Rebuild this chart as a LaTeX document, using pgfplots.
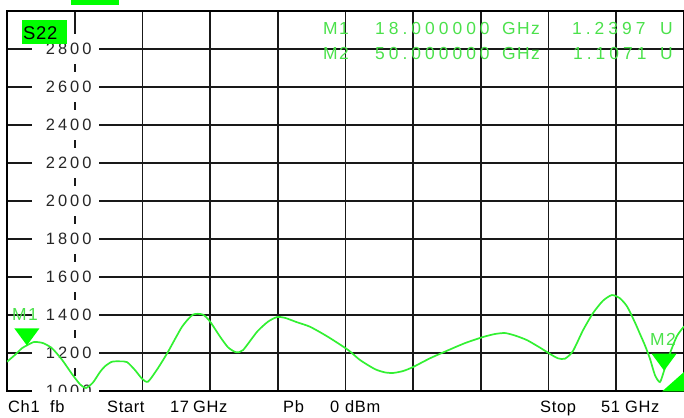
\documentclass[border=0pt]{standalone}
\usepackage{fontspec}
\setmainfont{Liberation Sans}
\newfontfamily\widefont[LetterSpace=18]{Liberation Sans}
\newfontfamily\numfont[LetterSpace=23]{Liberation Sans}
\newfontfamily\midfont[LetterSpace=4]{Liberation Sans}
\newfontfamily\mkfont[LetterSpace=8]{Liberation Sans}
\usepackage{pgfplots}
\pgfplotsset{compat=1.18}
\definecolor{trace}{RGB}{50,240,50}
\definecolor{mk}{RGB}{0,255,0}
\definecolor{mtext}{RGB}{75,225,75}
% marker triangle, tip on the data point
\pgfdeclareplotmark{tridown}{%
  \pgfpathmoveto{\pgfpoint{0bp}{0bp}}%
  \pgfpathlineto{\pgfpoint{-12.5bp}{17bp}}%
  \pgfpathlineto{\pgfpoint{12.5bp}{17bp}}%
  \pgfpathclose\pgfusepathqfill}

\begin{document}
\begin{tikzpicture}
\begin{axis}[
    scale only axis, width=677bp, height=380bp,
    xmin=17, xmax=51, ymin=1000, ymax=3000,
    xtick={20.4,23.8,27.2,30.6,34,37.4,40.8,44.2,47.6},
    ytick={1200,1400,1600,1800,2000,2200,2400,2600,2800},
    xticklabels={}, yticklabels={},
    tick style={draw=none},
    grid=major,
    major grid style={black!90, line width=1.7bp},
    axis line style={black, line width=1.7bp},
]
% gaps in the grid round the scale numbers
\pgfplotsinvokeforeach{1000,1200,...,2800}{
  \fill[white] (axis cs:18.26,#1-79) rectangle (axis cs:21.62,#1+79);
}
\pgfplotsinvokeforeach{1000,1200,...,2800}{
  \node[font=\widefont\fontsize{16.5}{17}\selectfont, text=black!85, inner sep=0pt, xshift=-6bp] at (axis cs:20.4,#1) {#1};
}

\addplot[trace, line width=1.7bp, smooth, tension=0.4] coordinates {
(17.00,1154)(17.40,1190)(17.75,1225)(18.00,1240)(18.36,1258)(18.81,1252)
(19.26,1225)(19.76,1165)(20.26,1090)(20.67,1035)(20.97,1016)(21.32,1045)
(21.67,1100)(21.92,1130)(22.27,1154)(22.68,1156)(23.03,1152)(23.43,1110)
(23.78,1065)(24.08,1049)(24.58,1120)(25.09,1207)(25.79,1338)(26.34,1402)
(26.84,1402)(27.20,1365)(27.70,1286)(28.10,1230)(28.50,1204)(28.85,1215)
(29.56,1312)(30.11,1365)(30.56,1389)(30.96,1385)(31.56,1362)(32.22,1338)
(33.12,1285)(34.13,1216)(34.73,1163)(35.48,1115)(35.98,1098)(36.39,1095)
(36.89,1105)(37.39,1126)(38.24,1172)(39.10,1212)(40.00,1252)(40.90,1284)
(41.51,1300)(42.01,1305)(42.51,1292)(43.11,1268)(43.77,1228)(44.27,1195)
(44.67,1172)(45.02,1170)(45.42,1210)(45.93,1320)(46.43,1410)(46.93,1475)
(47.38,1505)(47.78,1488)(48.14,1445)(48.54,1360)(48.79,1300)(49.04,1240)
(49.29,1170)(49.54,1084)(49.79,1047)(50.00,1107)(50.30,1200)(50.65,1290)
(51.00,1340)
};
\addplot[only marks, mark=tridown, color=mk] coordinates {(18,1239.7)(50,1107.1)};
\end{axis}

\pgfresetboundingbox
\path ([xshift=-7bp,yshift=-27bp]current axis.south west) rectangle ([yshift=11bp]current axis.north east);

\begin{scope}[shift={([xshift=-7bp,yshift=11bp]current axis.north west)}, x=1bp, y=-1bp,
  every node/.style={anchor=base west, inner sep=0pt}]
\fill[mk] (71,0) rectangle (119,5);
\fill[mk] (22,20) rectangle (67,44);
\node[font=\midfont\fontsize{18.5}{18}\selectfont] at (23,40) {S22};
% marker readout
\begin{scope}[every node/.append style={text=mtext, font=\mkfont\fontsize{17.5}{18}\selectfont}]
\node at (323,35) {M1}; \node[font=\numfont\fontsize{17.5}{18}\selectfont] at (375,35) {18.000000}; \node at (502,35) {GHz};
\node[font=\numfont\fontsize{17.5}{18}\selectfont] at (572,35) {1.2397}; \node at (660,35) {U};
\node at (323,60) {M2}; \node[font=\numfont\fontsize{17.5}{18}\selectfont] at (375,60) {50.000000}; \node at (502,60) {GHz};
\node[font=\numfont\fontsize{17.5}{18}\selectfont] at (573,60) {1.1071}; \node at (660,60) {U};
\node at (12,321) {M1}; \node at (650,346) {M2};
\end{scope}
\fill[mk] (662,391.5) -- (684,372) -- (684,391.5) -- cycle;
% status line
\begin{scope}[every node/.append style={font=\midfont\fontsize{16.5}{18}\selectfont}]
\node at (8,413) {Ch1}; \node at (50,413) {fb}; \node at (107,413) {Start};
\node at (170,413) {17}; \node at (193,413) {GHz}; \node at (283,413) {Pb};
\node at (330,413) {0}; \node at (345,413) {dBm};
\node at (540,413) {Stop}; \node at (601,413) {51}; \node at (625,413) {GHz};
\end{scope}
\end{scope}
\end{tikzpicture}
\end{document}
